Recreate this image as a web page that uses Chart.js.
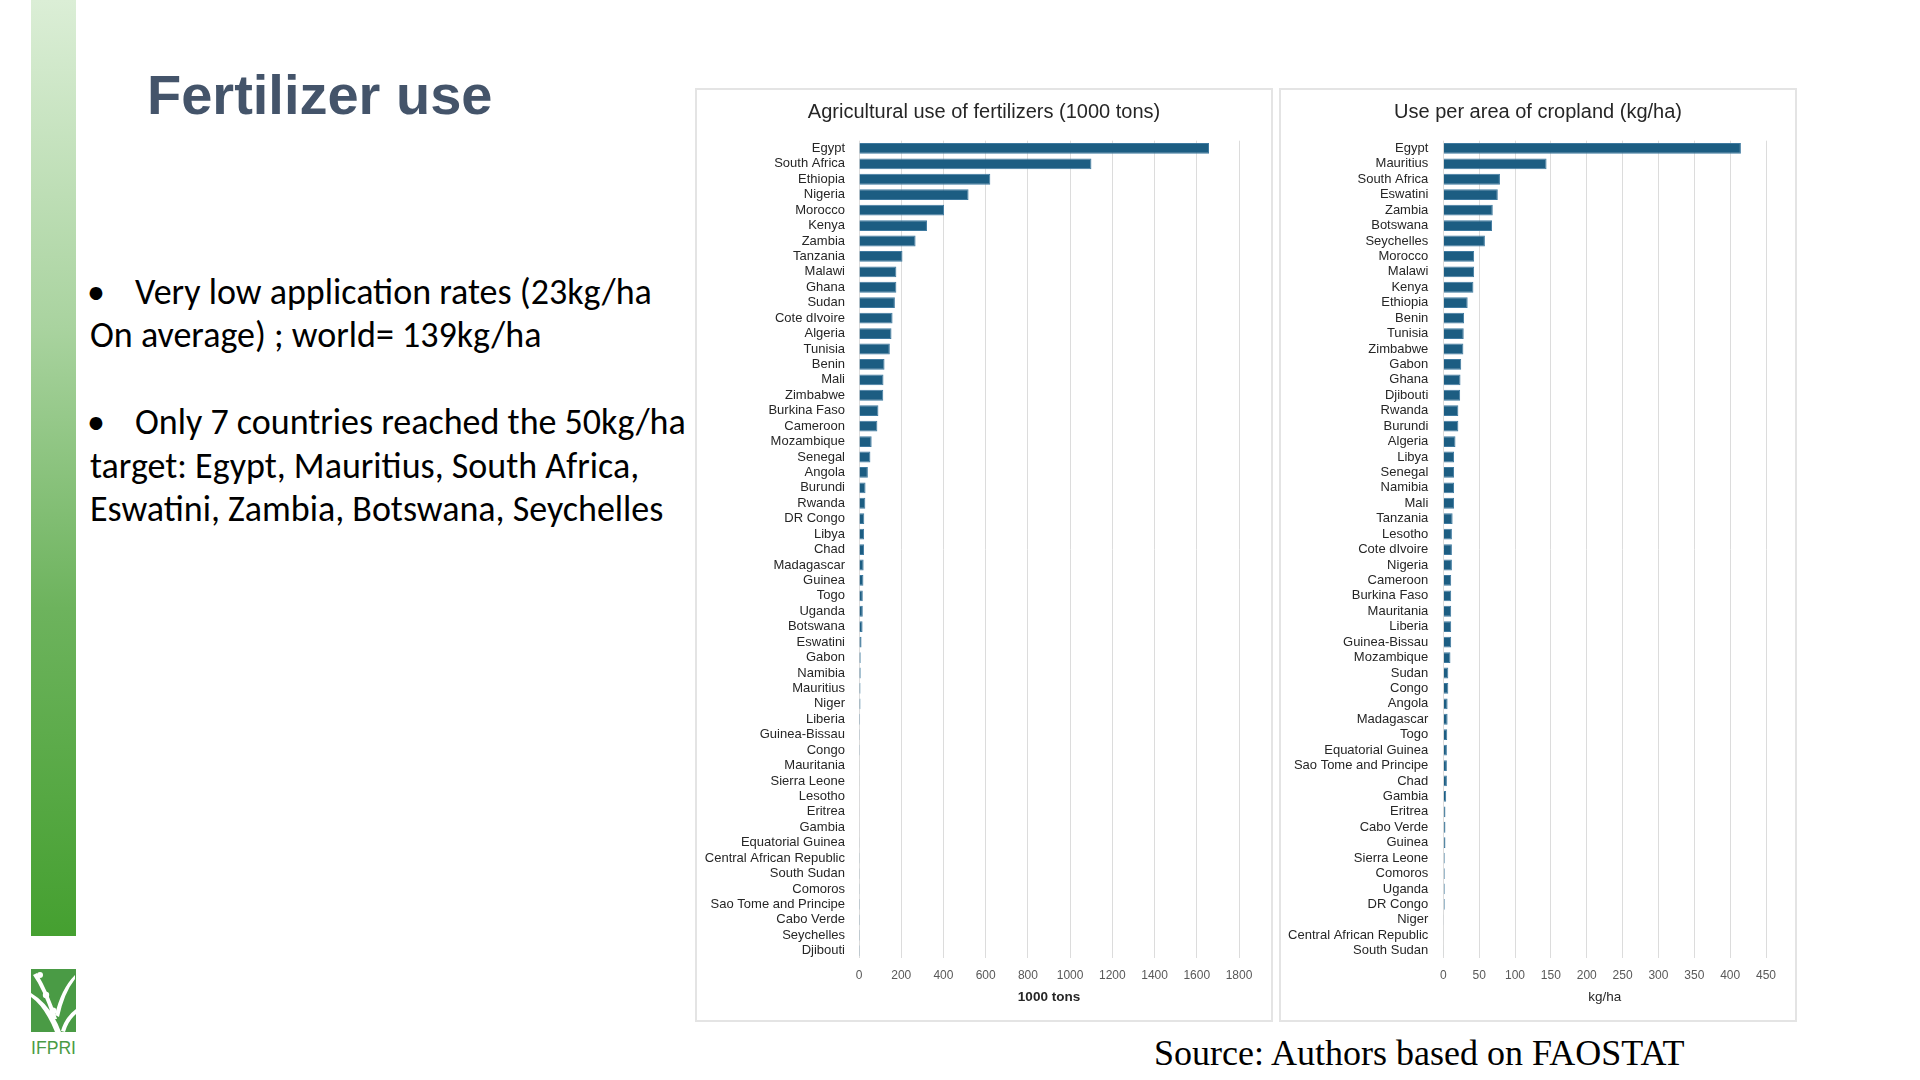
<!DOCTYPE html>
<html>
<head>
<meta charset="utf-8">
<script src="https://cdn.jsdelivr.net/npm/chart.js@4.4.1/dist/chart.umd.min.js"></script>
<style>
  html, body { margin: 0; padding: 0; background: #fff; }
  body { width: 1920px; height: 1080px; position: relative; overflow: hidden; }
  .greenbar { position: absolute; left: 31px; top: 0; width: 45px; height: 936px;
    background: linear-gradient(to bottom, #dbeed6 0%, #a9d39f 35%, #6db35d 65%, #45a030 100%); }
  .logo { position: absolute; left: 31px; top: 969px; width: 45px; }
  .title { position: absolute; left: 147px; top: 67px; font: bold 56px "Liberation Sans", Arial, sans-serif;
    color: #44546a; line-height: 1; white-space: nowrap; }
  .line { position: absolute; font-family: Carlito, Lato, sans-serif; font-size: 36px; color: #000;
    height: 44px; line-height: 44px; white-space: nowrap; }
  .panel { position: absolute; box-sizing: border-box; border: 2px solid #e4e4e4; pointer-events: none; }
  canvas { position: absolute; }
  .source { position: absolute; left: 1154px; top: 1035px; font: 36px "Liberation Serif", "Times New Roman", serif;
    color: #000; white-space: nowrap; line-height: 1; }
</style>
</head>
<body>
<div class="greenbar"></div>
<svg class="logo" width="45" height="86" viewBox="0 0 45 86">
  <rect x="0" y="0" width="45" height="63" fill="#4a9b45"/>
  <path d="M2 6 Q12 20 22 50 L26 50 Q18 24 6 4 Z" fill="#fff"/>
  <path d="M24 46 Q30 20 44 6 L44 10 Q33 24 28 48 Z" fill="#fff"/>
  <path d="M0 28 Q14 38 24 63 L30 63 Q20 36 0 24 Z" fill="#fff"/>
  <path d="M30 62 Q34 48 45 40 L45 45 Q37 52 34 63 Z" fill="#fff"/>
  <circle cx="9" cy="6" r="3" fill="#fff"/>
  <circle cx="15" cy="26" r="3.2" fill="#fff"/>
  <circle cx="22" cy="42" r="3.4" fill="#fff"/>
  <text x="22.5" y="85" text-anchor="middle" font-family="Liberation Sans Narrow, Liberation Sans, Arial" font-size="19" fill="#4a9b45" textLength="45" lengthAdjust="spacingAndGlyphs">IFPRI</text>
</svg>
<div class="title">Fertilizer use</div>

<div class="line" style="left:87px; top:270px;">•</div>
<div class="line" style="left:135px; top:270px;">Very low application rates (23kg/ha</div>
<div class="line" style="left:90px; top:313px;">On average) ; world= 139kg/ha</div>
<div class="line" style="left:87px; top:400px;">•</div>
<div class="line" style="left:135px; top:400px;">Only 7 countries reached the 50kg/ha</div>
<div class="line" style="left:90px; top:444px;">target: Egypt, Mauritius, South Africa,</div>
<div class="line" style="left:90px; top:487px;">Eswatini, Zambia, Botswana, Seychelles</div>

<canvas id="tons-chart" width="578" height="934" style="left:695px; top:88px;"></canvas>
<canvas id="perha-chart" width="518" height="934" style="left:1279px; top:88px;"></canvas>
<div class="panel" style="left:695px; top:88px; width:578px; height:934px;"></div>
<div class="panel" style="left:1279px; top:88px; width:518px; height:934px;"></div>

<div class="source">Source: Authors based on FAOSTAT</div>

<script>
const BAR_COLOR = '#1c5d82';
const BAR_EDGE = '#3f7aa0';
const FONT = '"Liberation Sans", Arial, sans-serif';

// ─── Agricultural use of fertilizers (1000 tons) ───
const tonsCountries = [
  'Egypt', 'South Africa', 'Ethiopia', 'Nigeria', 'Morocco', 'Kenya', 'Zambia', 'Tanzania', 'Malawi', 'Ghana',
  'Sudan', 'Cote dIvoire', 'Algeria', 'Tunisia', 'Benin', 'Mali', 'Zimbabwe', 'Burkina Faso', 'Cameroon', 'Mozambique',
  'Senegal', 'Angola', 'Burundi', 'Rwanda', 'DR Congo', 'Libya', 'Chad', 'Madagascar', 'Guinea', 'Togo',
  'Uganda', 'Botswana', 'Eswatini', 'Gabon', 'Namibia', 'Mauritius', 'Niger', 'Liberia', 'Guinea-Bissau', 'Congo',
  'Mauritania', 'Sierra Leone', 'Lesotho', 'Eritrea', 'Gambia', 'Equatorial Guinea', 'Central African Republic', 'South Sudan', 'Comoros', 'Sao Tome and Principe',
  'Cabo Verde', 'Seychelles', 'Djibouti'
];
const tonsValues = [
  1658, 1101, 622, 519, 403, 322, 268, 206, 177, 177,
  170, 159, 154, 146, 121, 116, 115, 92, 87, 60,
  54, 42, 31, 30, 25, 24, 24, 22, 21, 18,
  18, 17, 12, 8, 8, 7, 7, 5, 4, 4,
  3, 3, 2, 2, 2, 1.5, 1, 1, 1, 0.5,
  0.5, 0.5, 0.5
];
const tonsTicks = { min: 0, max: 1800, step: 200 };

// ─── Use per area of cropland (kg/ha) ───
const perHaCountries = [
  'Egypt', 'Mauritius', 'South Africa', 'Eswatini', 'Zambia', 'Botswana', 'Seychelles', 'Morocco', 'Malawi', 'Kenya',
  'Ethiopia', 'Benin', 'Tunisia', 'Zimbabwe', 'Gabon', 'Ghana', 'Djibouti', 'Rwanda', 'Burundi', 'Algeria',
  'Libya', 'Senegal', 'Namibia', 'Mali', 'Tanzania', 'Lesotho', 'Cote dIvoire', 'Nigeria', 'Cameroon', 'Burkina Faso',
  'Mauritania', 'Liberia', 'Guinea-Bissau', 'Mozambique', 'Sudan', 'Congo', 'Angola', 'Madagascar', 'Togo', 'Equatorial Guinea',
  'Sao Tome and Principe', 'Chad', 'Gambia', 'Eritrea', 'Cabo Verde', 'Guinea', 'Sierra Leone', 'Comoros', 'Uganda', 'DR Congo',
  'Niger', 'Central African Republic', 'South Sudan'
];
const perHaValues = [
  415, 144, 79, 76, 69, 68, 58, 43, 43, 42,
  34, 29, 28.5, 28, 25, 24, 23.5, 21, 21, 17,
  15, 15, 15, 15, 13, 12, 12, 12, 11, 11,
  11, 11, 11, 10, 7, 7, 6, 6, 5.5, 5,
  5, 5, 4, 3, 3, 3, 2, 2, 2, 2,
  1, 0.5, 0.5
];
const perHaTicks = { min: 0, max: 450, step: 50 };

// Chart title drawn in the middle of the whole panel (the built-in title centres on the padded box)
const panelTitle = {
  id: 'panelTitle',
  afterDraw(chart, args, opts) {
    const ctx = chart.ctx;
    ctx.save();
    ctx.font = `20px ${FONT}`;
    ctx.fillStyle = '#262626';
    ctx.textAlign = 'center';
    ctx.textBaseline = 'middle';
    ctx.fillText(opts.text, chart.width / 2, 24);
    ctx.restore();
  }
};

function makeChart(id, labels, values, ticks, titleText, axisText, axisBold, yWidth, rightPad, labelPad) {
  return new Chart(document.getElementById(id), {
    type: 'bar',
    data: {
      labels,
      datasets: [{
        data: values,
        backgroundColor: BAR_COLOR,
        borderColor: BAR_EDGE,
        borderWidth: 1,
        barPercentage: 0.7,
        categoryPercentage: 1
      }]
    },
    plugins: [panelTitle],
    options: {
      indexAxis: 'y',
      responsive: false,
      animation: false,
      devicePixelRatio: 1,
      layout: { padding: { left: 0, right: rightPad, top: 52.7, bottom: 13 } },
      scales: {
        x: {
          min: ticks.min,
          max: ticks.max,
          ticks: {
            stepSize: ticks.step,
            color: '#595959',
            font: { family: FONT, size: 12 },
            padding: 10,
            callback: v => String(v)
          },
          grid: { color: '#dcdcdc', lineWidth: 1, drawTicks: false },
          border: { display: false },
          title: {
            display: true,
            text: axisText,
            color: '#262626',
            font: { family: FONT, size: 13.5, weight: axisBold ? 'bold' : 'normal' },
            padding: { top: -4, bottom: 4 }
          }
        },
        y: {
          ticks: { autoSkip: false, color: '#262626', font: { family: FONT, size: 13 }, padding: labelPad },
          grid: { display: false },
          border: { display: false },
          afterFit: scale => { scale.width = yWidth; }
        }
      },
      plugins: {
        legend: { display: false },
        tooltip: { enabled: false },
        title: { display: false },
        panelTitle: { text: titleText }
      }
    }
  });
}

makeChart('tons-chart', tonsCountries, tonsValues, tonsTicks,
  'Agricultural use of fertilizers (1000 tons)', '1000 tons', true, 164, 34, 6);
makeChart('perha-chart', perHaCountries, perHaValues, perHaTicks,
  'Use per area of cropland (kg/ha)', 'kg/ha', false, 164.3, 31, 7);
</script>
</body>
</html>
